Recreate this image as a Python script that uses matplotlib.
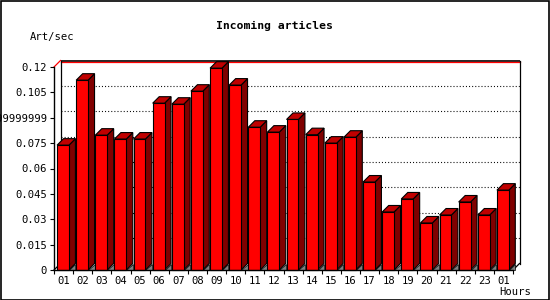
import numpy as np
import matplotlib.pyplot as plt
from matplotlib.patches import Polygon, Rectangle

hours = ["01", "02", "03", "04", "05", "06", "07", "08", "09", "10", "11", "12",
         "13", "14", "15", "16", "17", "18", "19", "20", "21", "22", "23", "01"]
rate = [0.0738, 0.1122, 0.0797, 0.0774, 0.0774, 0.0986, 0.0980, 0.1057,
        0.1193, 0.1093, 0.0844, 0.0815, 0.0890, 0.0800, 0.0750, 0.0785,
        0.0520, 0.0343, 0.0420, 0.0278, 0.0325, 0.0402, 0.0325, 0.0472]
yticks = [0, 0.015, 0.03, 0.045, 0.06, 0.075, 0.09, 0.105, 0.12]
ytick_labels = ["0", "0.015", "0.03", "0.045", "0.06", "0.075",
                "0.08999999999999999", "0.105", "0.12"]

W, H = 550, 300
fig = plt.figure(figsize=(W / 100, H / 100), dpi=100)
ax = fig.add_axes([54 / W, 30 / H, 459 / W, 203 / H])
ax.set_xlim(-0.5, 23.5)
ax.set_ylim(0, 0.12)
ax.patch.set_visible(False)

# 3d depth in data units (about 6.5 px each way)
dx = 6.5 * 24 / 459
dy = 6.5 * 0.12 / 203
x0, x1 = -0.5, 23.5
mono = "DejaVu Sans Mono"
fs = 7.6

# back wall: grid lines and frame
for g in yticks[1:-1]:
    ax.plot([x0 + dx, x1 + dx], [g + dy, g + dy], color="black", lw=0.8,
            ls=(0, (0.9, 1.9)), clip_on=False, zorder=1)
ax.plot([x0 + dx, x1 + dx], [0.12 + dy, 0.12 + dy], color="black", lw=1.2,
        clip_on=False, zorder=1, solid_capstyle="butt")
ax.plot([x0 + dx, x1 + dx], [0.12 + dy * 0.8, 0.12 + dy * 0.8], color="red",
        lw=0.9, clip_on=False, zorder=1)
ax.plot([x0 + dx, x0 + dx], [dy, 0.12 + dy], color="black", lw=0.9, clip_on=False, zorder=1)
ax.plot([x1 + dx, x1 + dx], [dy, 0.12 + dy], color="black", lw=0.9, clip_on=False, zorder=1)
ax.plot([x0, x0 + dx], [0.12, 0.12 + dy], color="red", lw=0.9, clip_on=False, zorder=1)
ax.plot([x0, x0 + dx], [0, dy], color="black", lw=0.9, clip_on=False, zorder=1)
ax.plot([x1, x1 + dx], [0, dy], color="black", lw=0.9, clip_on=False, zorder=1)

# bars
bw = 0.62
for i, v in enumerate(rate):
    left = i - 0.34
    right = left + bw
    floor = Polygon([(right, 0), (right + dx, 0), (right + dx, dy)], closed=True,
                    facecolor="#808080", edgecolor="black", lw=0.5, zorder=2, clip_on=False)
    side = Polygon([(right, 0), (right + dx, dy), (right + dx, v + dy), (right, v)],
                   closed=True, facecolor="#800000", edgecolor="black", lw=0.8,
                   zorder=3, clip_on=False)
    top = Polygon([(left, v), (right, v), (right + dx, v + dy), (left + dx, v + dy)],
                  closed=True, facecolor="#c00000", edgecolor="black", lw=0.8,
                  zorder=3, clip_on=False)
    ax.add_patch(floor)
    ax.add_patch(side)
    ax.add_patch(top)
ax.bar(np.arange(24) - 0.34, rate, width=bw, align="edge", color="#ff0000",
       edgecolor="black", lw=0.8, zorder=4, clip_on=False)

# axes
for s in ["top", "right"]:
    ax.spines[s].set_visible(False)
for s in ["left", "bottom"]:
    ax.spines[s].set_linewidth(1.0)
    ax.spines[s].set_zorder(5)
ax.set_yticks(yticks)
ax.set_yticklabels(ytick_labels, fontfamily=mono, fontsize=fs)
ax.tick_params(axis="y", length=3, width=0.8, pad=2)
ax.set_xticks(np.arange(25) - 0.5)
ax.set_xticklabels([])
ax.tick_params(axis="x", which="major", length=3, width=0.8)
ax.set_xticks(np.arange(24), minor=True)
ax.set_xticklabels(hours, minor=True, fontfamily=mono, fontsize=fs)
ax.tick_params(axis="x", which="minor", length=0, pad=4)

fig.text(274 / W, 1 - 26 / H, "Incoming articles", ha="center", va="center",
         fontfamily=mono, fontweight="bold", fontsize=8.2)
fig.text(30 / W, 1 - 37 / H, "Art/sec", ha="left", va="center",
         fontfamily=mono, fontsize=fs)
fig.text(531 / W, 1 - 292 / H, "Hours", ha="right", va="center",
         fontfamily=mono, fontsize=fs)

fig.patches.append(Rectangle((0.5 / W, 0.5 / H), 1 - 1.5 / W, 1 - 1.5 / H,
                             transform=fig.transFigure, fill=False,
                             edgecolor="black", lw=1.2))

fig.savefig("out.png", dpi=100)
